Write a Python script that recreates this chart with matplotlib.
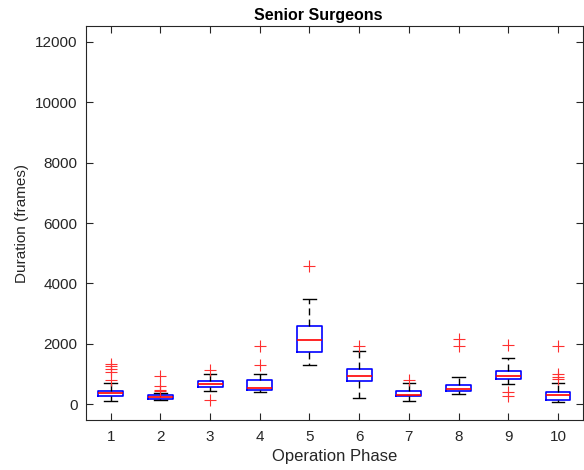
import matplotlib
matplotlib.use("Agg")
import matplotlib.pyplot as plt

plt.rcParams["font.family"] = ["Liberation Sans", "DejaVu Sans"]

phases = [1, 2, 3, 4, 5, 6, 7, 8, 9, 10]
medians = [370, 245, 660, 540, 2140, 925, 300, 520, 950, 300]
q1 = [275, 190, 565, 465, 1745, 775, 265, 430, 830, 155]
q3 = [455, 300, 775, 795, 2595, 1180, 440, 630, 1115, 410]
whisker_low = [120, 145, 430, 400, 1290, 210, 120, 340, 685, 90]
whisker_high = [695, 390, 1005, 1015, 3480, 1755, 720, 905, 1545, 710]
outliers = [
    [1350, 1260, 1170, 1085, 820],
    [950, 600, 490, 430],
    [1125, 155],
    [1300, 1940],
    [4580],
    [1940],
    [820],
    [2175, 1930],
    [1950, 420, 290],
    [1930, 1010, 900, 830],
]

stats = []
for i in range(len(phases)):
    stats.append({
        "med": medians[i],
        "q1": q1[i],
        "q3": q3[i],
        "whislo": whisker_low[i],
        "whishi": whisker_high[i],
        "fliers": outliers[i],
    })

fig = plt.figure(figsize=(5.84, 4.70), dpi=100)
ax = fig.add_axes([0.147, 0.106, 0.851, 0.839])

ax.bxp(
    stats,
    positions=phases,
    widths=0.5,
    showfliers=True,
    boxprops=dict(color="#0000ff", linewidth=1.2),
    medianprops=dict(color="#ff0000", linewidth=1.2),
    whiskerprops=dict(color="black", linestyle="--", linewidth=1.0, dashes=(5, 3)),
    capprops=dict(color="black", linewidth=1.0),
    capwidths=0.25,
    flierprops=dict(marker="+", markeredgecolor="#ff3030", markersize=8,
                    markeredgewidth=0.8, linestyle="none"),
)

ax.set_xlim(0.5, 10.5)
ax.set_ylim(-520, 12520)
ax.set_xticks(phases)
ax.set_xticklabels([str(p) for p in phases])
ax.set_yticks([0, 2000, 4000, 6000, 8000, 10000, 12000])

text_color = "#262626"
ax.set_title("Senior Surgeons", fontsize=11.5, fontweight="bold", color="black",
             pad=4, x=0.468)
ax.set_xlabel("Operation Phase", fontsize=12, color=text_color, labelpad=4)
ax.set_ylabel("Duration (frames)", fontsize=11, color=text_color, labelpad=4)

ax.tick_params(direction="in", length=5, width=0.8, top=True, right=True,
               labelsize=11, colors=text_color)
ax.tick_params(axis="x", pad=7)
ax.tick_params(axis="y", pad=6)
for spine in ax.spines.values():
    spine.set_color(text_color)
    spine.set_linewidth(0.8)

fig.savefig("out.png", dpi=100)
